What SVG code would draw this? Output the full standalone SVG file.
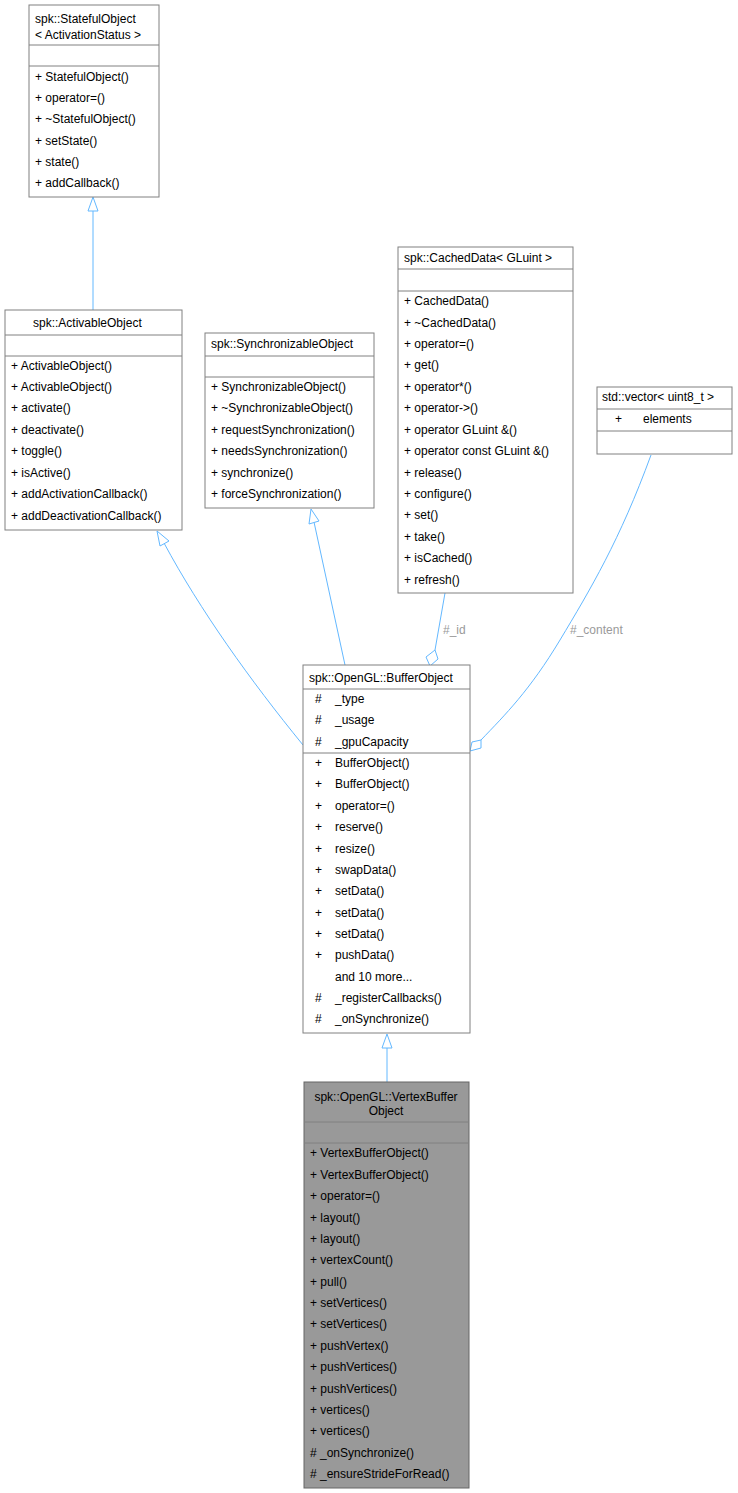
<svg xmlns="http://www.w3.org/2000/svg" width="738" height="1493" viewBox="0 0 738 1493">
<style>
.b{fill:#fff;stroke:#808080;stroke-width:1}
.g{fill:#999;stroke:#666;stroke-width:1}
.s{stroke:#808080;stroke-width:1}
text{font-family:"Liberation Sans",Arial,sans-serif;font-size:12px;fill:#000}
.c{text-anchor:middle}
.l{fill:#9a9a9a}
.e{fill:none;stroke:#63b8ff;stroke-width:1}
.t{fill:#fff;stroke:#63b8ff;stroke-width:1}
</style>
<rect width="738" height="1493" fill="#fff"/>
<g id="connectors">
<path class="e" d="M93,310 L93,211"/><path class="t" d="M93,197 L88,211 L98,211 Z"/>
<path class="e" d="M303,745 C250,680 200,610 164,543"/><path class="t" d="M157,531 L160,546 L169,541 Z"/>
<path class="e" d="M345,665 L314,522"/><path class="t" d="M311,509 L309,524 L319,521 Z"/>
<path class="e" d="M445,593 L435,650"/><path class="t" d="M430,666 L426,657 L435,650 L438,659 Z"/>
<path class="e" d="M651,455 C620,540 590,590 560,640 C530,690 505,715 481,740"/><path class="t" d="M470,751 L472,742 L481,740 L481,748 Z"/>
<path class="e" d="M387,1082 L387,1048"/><path class="t" d="M387,1034 L382,1048 L392,1048 Z"/>
<text class="l" x="443" y="634">#_id</text>
<text class="l" x="570" y="634">#_content</text>
</g>
<g id="StatefulObject">
<rect class="b" x="29" y="5" width="130" height="192"/>
<line class="s" x1="29" y1="45" x2="159" y2="45"/><line class="s" x1="29" y1="66" x2="159" y2="66"/>
<text x="35" y="23">spk::StatefulObject</text><text x="35" y="39">&lt; ActivationStatus &gt;</text>
<text x="35" y="81">+  StatefulObject()</text><text x="35" y="102">+  operator=()</text><text x="35" y="123">+  ~StatefulObject()</text><text x="35" y="145">+  setState()</text><text x="35" y="166">+  state()</text><text x="35" y="187">+  addCallback()</text>
</g>
<g id="ActivableObject">
<rect class="b" x="5" y="310" width="177" height="220"/>
<line class="s" x1="5" y1="335" x2="182" y2="335"/><line class="s" x1="5" y1="356" x2="182" y2="356"/>
<text x="33" y="327">spk::ActivableObject</text>
<text x="11" y="370">+ ActivableObject()</text><text x="11" y="391">+ ActivableObject()</text><text x="11" y="412">+ activate()</text><text x="11" y="434">+ deactivate()</text><text x="11" y="455">+ toggle()</text><text x="11" y="477">+ isActive()</text><text x="11" y="498">+ addActivationCallback()</text><text x="11" y="520">+ addDeactivationCallback()</text>
</g>
<g id="SynchronizableObject">
<rect class="b" x="205" y="333" width="169" height="175"/>
<line class="s" x1="205" y1="356" x2="374" y2="356"/><line class="s" x1="205" y1="377" x2="374" y2="377"/>
<text x="211" y="348">spk::SynchronizableObject</text>
<text x="211" y="391">+ SynchronizableObject()</text><text x="211" y="412">+ ~SynchronizableObject()</text><text x="211" y="434">+ requestSynchronization()</text><text x="211" y="455">+ needsSynchronization()</text><text x="211" y="477">+ synchronize()</text><text x="211" y="498">+ forceSynchronization()</text>
</g>
<g id="CachedData">
<rect class="b" x="398" y="247" width="175" height="346"/>
<line class="s" x1="398" y1="269" x2="573" y2="269"/><line class="s" x1="398" y1="291" x2="573" y2="291"/>
<text x="404" y="262">spk::CachedData&lt; GLuint &gt;</text>
<text x="404" y="305">+ CachedData()</text><text x="404" y="327">+ ~CachedData()</text><text x="404" y="348">+ operator=()</text><text x="404" y="369">+ get()</text><text x="404" y="391">+ operator*()</text><text x="404" y="412">+ operator-&gt;()</text><text x="404" y="434">+ operator GLuint &amp;()</text><text x="404" y="455">+ operator const GLuint &amp;()</text><text x="404" y="477">+ release()</text><text x="404" y="498">+ configure()</text><text x="404" y="519">+ set()</text><text x="404" y="541">+ take()</text><text x="404" y="562">+ isCached()</text><text x="404" y="584">+ refresh()</text>
</g>
<g id="vector">
<rect class="b" x="597" y="387" width="135" height="67"/>
<line class="s" x1="597" y1="409" x2="732" y2="409"/><line class="s" x1="597" y1="431" x2="732" y2="431"/>
<text x="602" y="401">std::vector&lt; uint8_t &gt;</text>
<text x="615" y="423">+</text><text x="643" y="423">elements</text>
</g>
<g id="BufferObject">
<rect class="b" x="303" y="665" width="167" height="368"/>
<line class="s" x1="303" y1="689" x2="470" y2="689"/><line class="s" x1="303" y1="753" x2="470" y2="753"/>
<text x="309" y="682">spk::OpenGL::BufferObject</text>
<g><text x="315" y="703">#</text><text x="335" y="703">_type</text><text x="315" y="724">#</text><text x="335" y="724">_usage</text><text x="315" y="746">#</text><text x="335" y="746">_gpuCapacity</text>
<text x="315" y="767">+</text><text x="335" y="767">BufferObject()</text>
<text x="315" y="788">+</text><text x="335" y="788">BufferObject()</text>
<text x="315" y="810">+</text><text x="335" y="810">operator=()</text>
<text x="315" y="831">+</text><text x="335" y="831">reserve()</text>
<text x="315" y="853">+</text><text x="335" y="853">resize()</text>
<text x="315" y="874">+</text><text x="335" y="874">swapData()</text>
<text x="315" y="895">+</text><text x="335" y="895">setData()</text>
<text x="315" y="917">+</text><text x="335" y="917">setData()</text>
<text x="315" y="938">+</text><text x="335" y="938">setData()</text>
<text x="315" y="959">+</text><text x="335" y="959">pushData()</text>
<text x="335" y="981">and 10 more...</text>
<text x="315" y="1002">#</text><text x="335" y="1002">_registerCallbacks()</text>
<text x="315" y="1023">#</text><text x="335" y="1023">_onSynchronize()</text></g>
</g>
<g id="VertexBufferObject">
<rect class="g" x="304" y="1082" width="165" height="406"/>
<line class="s" x1="304" y1="1122" x2="469" y2="1122"/><line class="s" x1="304" y1="1143" x2="469" y2="1143"/>
<text class="c" x="386" y="1101">spk::OpenGL::VertexBuffer</text><text class="c" x="386" y="1115">Object</text>
<text x="310" y="1157">+ VertexBufferObject()</text><text x="310" y="1179">+ VertexBufferObject()</text><text x="310" y="1200">+ operator=()</text><text x="310" y="1222">+ layout()</text><text x="310" y="1243">+ layout()</text><text x="310" y="1264">+ vertexCount()</text><text x="310" y="1286">+ pull()</text><text x="310" y="1307">+ setVertices()</text><text x="310" y="1328">+ setVertices()</text><text x="310" y="1350">+ pushVertex()</text><text x="310" y="1371">+ pushVertices()</text><text x="310" y="1393">+ pushVertices()</text><text x="310" y="1414">+ vertices()</text><text x="310" y="1435">+ vertices()</text><text x="310" y="1457">#  _onSynchronize()</text><text x="310" y="1478">#  _ensureStrideForRead()</text>
</g>
</svg>
